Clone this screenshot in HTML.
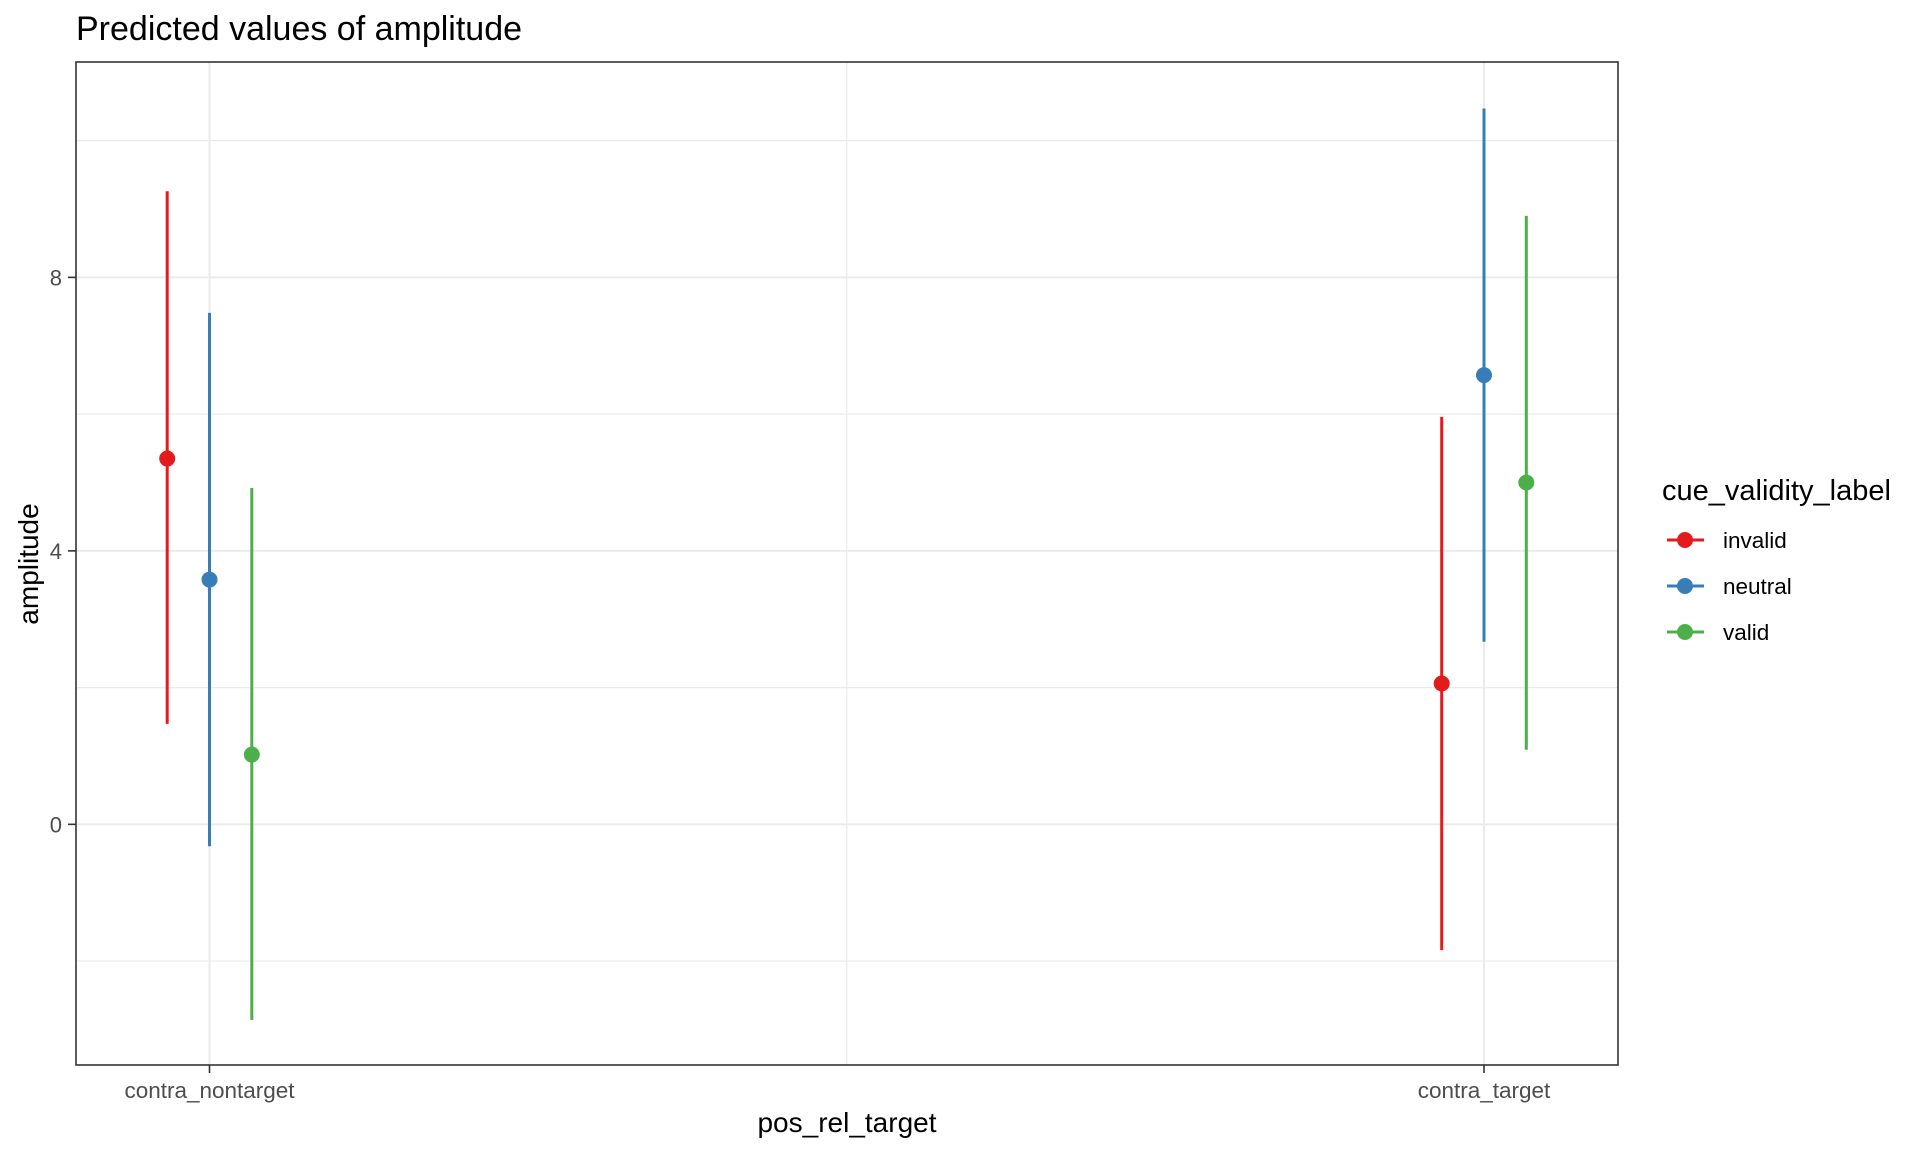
<!DOCTYPE html>
<html><head><meta charset="utf-8"><style>
html,body{margin:0;padding:0;background:#fff;}
svg{display:block;font-family:"Liberation Sans",Arial,sans-serif;}
</style></head><body>
<svg id="chart" width="1920" height="1152" viewBox="0 0 1920 1152">
<text x="76" y="40" font-size="34" fill="#000">Predicted values of amplitude</text>
<g id="grid"></g>
<g id="marks"></g>
<rect x="76" y="62" width="1542" height="1003" fill="none" stroke="#333" stroke-width="1.6"/>
<g id="axes"></g>
<text x="847" y="1132" font-size="28" text-anchor="middle" fill="#000">pos_rel_target</text>
<text transform="translate(38,564) rotate(-90)" font-size="28" text-anchor="middle" fill="#000">amplitude</text>
<g id="legend"></g>
</svg>
<script>
const categories = ["contra_nontarget","contra_target"];
const groups = ["invalid","neutral","valid"];
const colors = ["#e41a1c","#377eb8","#4daf4a"];
const predicted = [[5.35,3.58,1.02],[2.06,6.57,5.0]];
const ciLow = [[1.47,-0.32,-2.86],[-1.84,2.67,1.09]];
const ciHigh = [[9.26,7.48,4.92],[5.96,10.47,8.9]];
const yTicks = [0,4,8];
const yMinor = [-2,2,6,10];

const NS="http://www.w3.org/2000/svg";
const L=76,R=1618,T=62,B=1065;
const yMin=-3.52,yMax=11.15;
function y(v){return B-(v-yMin)/(yMax-yMin)*(B-T);}
const catX=[209.5,1484];
function x(ci,gi){return catX[ci]+(gi-1)*42.3;}
function mk(tag,attrs,parent){const e=document.createElementNS(NS,tag);for(const k in attrs)e.setAttribute(k,attrs[k]);parent.appendChild(e);return e;}
const grid=document.getElementById('grid'),marks=document.getElementById('marks'),axes=document.getElementById('axes'),legend=document.getElementById('legend');
mk('rect',{x:L,y:T,width:R-L,height:B-T,fill:'#fff'},grid);
yMinor.forEach(v=>{const l=mk('line',{x1:L,x2:R,y1:y(v),y2:y(v),stroke:'#ebebeb','stroke-width':1.2},grid);

});
const mx=mk('line',{x1:(catX[0]+catX[1])/2,x2:(catX[0]+catX[1])/2,y1:T,y2:B,stroke:'#ebebeb','stroke-width':1.2},grid);


yTicks.forEach(v=>{const l=mk('line',{x1:L,x2:R,y1:y(v),y2:y(v),stroke:'#ebebeb','stroke-width':2},grid);


const t=mk('line',{x1:68,x2:L,y1:y(v),y2:y(v),stroke:'#333','stroke-width':1.6},axes);


const tx=mk('text',{x:62,y:y(v)+8,'font-size':22,'text-anchor':'end',fill:'#4d4d4d'},axes);tx.textContent=v;

});
categories.forEach((c,ci)=>{const l=mk('line',{x1:catX[ci],x2:catX[ci],y1:T,y2:B,stroke:'#ebebeb','stroke-width':2},grid);


const t=mk('line',{x1:catX[ci],x2:catX[ci],y1:B,y2:B+8,stroke:'#333','stroke-width':1.6},axes);


const tx=mk('text',{x:catX[ci],y:1098,'font-size':22.5,'text-anchor':'middle',fill:'#4d4d4d'},axes);tx.textContent=c;


groups.forEach((g,gi)=>{const xx=x(ci,gi);
const e=mk('line',{x1:xx,x2:xx,y1:y(ciLow[ci][gi]),y2:y(ciHigh[ci][gi]),stroke:colors[gi],'stroke-width':3},marks);


const p=mk('circle',{cx:xx,cy:y(predicted[ci][gi]),r:8,fill:colors[gi]},marks);

});});
const lt=mk('text',{x:1662,y:500,'font-size':29,fill:'#000'},legend);lt.textContent='cue_validity_label';


groups.forEach((g,gi)=>{const cy=540+gi*46;
const gEl=mk('g',{},legend);


mk('line',{x1:1667,x2:1704,y1:cy,y2:cy,stroke:colors[gi],'stroke-width':3},gEl);
mk('circle',{cx:1685,cy:cy,r:8,fill:colors[gi]},gEl);
const t=mk('text',{x:1723,y:cy+8,'font-size':22.5,fill:'#000'},gEl);t.textContent=g;});
</script>
</body></html>
